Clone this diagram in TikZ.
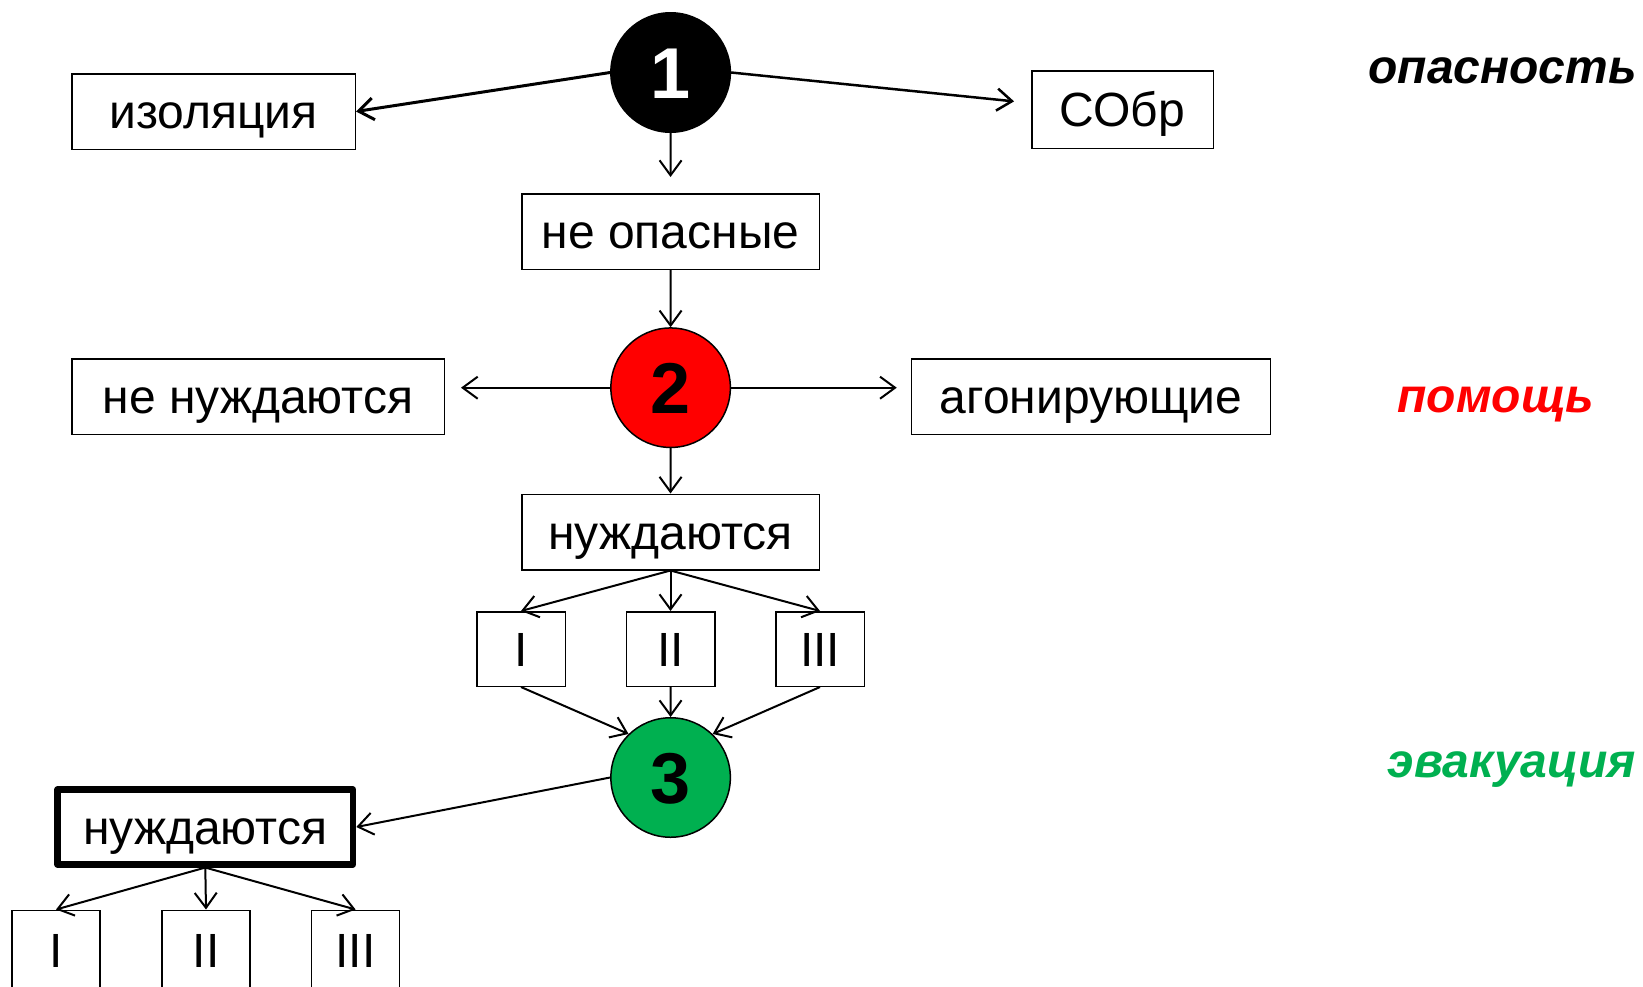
\documentclass[tikz,border=0pt]{standalone}
\usepackage{fontspec}
\setmainfont{Liberation Sans}
\usetikzlibrary{arrows.meta}
\definecolor{evgreen}{RGB}{0,176,80}
\begin{document}
\begin{tikzpicture}[x=1pt,y=-1pt,
  box/.style={draw, line width=1.5pt, rectangle, inner sep=0pt, text height=34pt, text depth=0pt, font=\fontsize{48}{56}\selectfont},
  thickbox/.style={box, line width=6.5pt, line join=round},
  circ/.style={circle, draw, line width=1.5pt, minimum size=119.5pt, inner sep=0pt, text height=52pt, text depth=0pt, font=\fontsize{72}{80}\selectfont\bfseries},
  lab/.style={inner sep=0pt, font=\fontsize{48}{58}\selectfont\bfseries\itshape},
  arr/.style={line width=2pt, -{Straight Barb[length=15pt,width=22pt]}}
]
\useasboundingbox (0,0) rectangle (1643,986);
% circles
\node[circ, fill=black, text=white] (c1) at (670.6,72.5) {1};
\node[circ, fill=red] (c2) at (670.6,387.7) {2};
\node[circ, fill=evgreen] (c3) at (670.6,777.5) {3};
% boxes
\node[box, minimum width=283.5pt, minimum height=75.5pt] (izol) at (213.5,111.5) {изоляция};
\node[box, minimum width=181.5pt, minimum height=77.5pt] (sobr) at (1122.5,109.5) {СОбр};
\node[box, minimum width=297.5pt, minimum height=75.5pt] (neop) at (670.5,231.5) {не опасные};
\node[box, minimum width=372.5pt, minimum height=75.5pt] (nn) at (258,396.5) {не нуждаются};
\node[box, minimum width=359pt, minimum height=75.5pt] (agon) at (1091,396.5) {агонирующие};
\node[box, minimum width=297.5pt, minimum height=75.5pt] (nuzh) at (670.5,532) {нуждаются};
\node[box, minimum width=88.5pt, minimum height=74.5pt] (r1) at (521,649) {I};
\node[box, minimum width=88.5pt, minimum height=74.5pt] (r2) at (670.5,649) {II};
\node[box, minimum width=88.5pt, minimum height=74.5pt] (r3) at (820,649) {III};
\node[thickbox, minimum width=295.5pt, minimum height=74.6pt] (n2) at (205.3,827) {нуждаются};
\node[box, minimum width=88pt, minimum height=90pt, text depth=10.5pt] (b1) at (56,955.25) {I};
\node[box, minimum width=88pt, minimum height=90pt, text depth=10.5pt] (b2) at (206,955.25) {II};
\node[box, minimum width=88pt, minimum height=90pt, text depth=10.5pt] (b3) at (355.6,955.25) {III};
% labels
\node[lab, anchor=base east] (lop) at (1637,83) {опасность};
\node[lab, text=red, anchor=base] (lpo) at (1496,412) {помощь};
\node[lab, text=evgreen, anchor=base] (lev) at (1512,777) {эвакуация};
% connectors
\draw[arr, line width=3pt] (c1.west) -- (izol.east);
\draw[arr, line width=2.5pt, shorten >=17pt] (c1.east) -- (sobr.176);
\draw[arr, shorten >=16pt] (c1.south) -- (neop.north);
\draw[arr] (neop.south) -- (c2.north);
\draw[arr, shorten >=16pt] (c2.west) -- (c2.west -| nn.east);
\draw[arr, shorten >=14pt] (c2.east) -- (c2.east -| agon.west);
\draw[arr] (c2.south) -- (nuzh.north);
\draw[arr] (nuzh.south) -- (r1.north);
\draw[arr] (nuzh.south) -- (r2.north);
\draw[arr] (nuzh.south) -- (r3.north);
\draw[arr] (r1.south) -- (c3.134);
\draw[arr] (r2.south) -- (c3.north);
\draw[arr] (r3.south) -- (c3.46);
\draw[arr] (c3.west) -- (n2.east);
\draw[arr] (n2.south) -- (b1.north);
\draw[arr] (n2.south) -- (b2.north);
\draw[arr] (n2.south) -- (b3.north);
\end{tikzpicture}
\end{document}
